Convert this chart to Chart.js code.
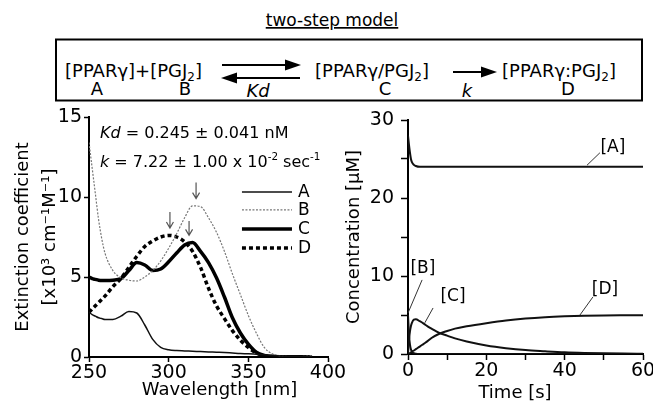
<!DOCTYPE html>
<html>
<head>
<meta charset="utf-8">
<script src="https://cdn.jsdelivr.net/npm/chart.js@4.4.1/dist/chart.umd.min.js"></script>
<style>
html, body { margin: 0; padding: 0; background: #fff; width: 653px; height: 405px; overflow: hidden; position: relative; }
#scheme { position: absolute; left: 0; top: 0; }
#spec { position: absolute; left: 0; top: 100px; }
#kin { position: absolute; left: 335px; top: 100px; }
</style>
</head>
<body>
<svg id="scheme" width="653" height="104" font-family="DejaVu Sans" font-size="18">
  <text x="332" y="26" text-anchor="middle" font-size="17" text-decoration="underline">two-step model</text>
  <rect x="56" y="39.5" width="586" height="61" fill="none" stroke="#000" stroke-width="2"/>
  <text x="65" y="77">[PPARγ]+[PGJ<tspan font-size="12" dy="4">2</tspan><tspan dy="-4">]</tspan></text>
  <text x="97" y="95" text-anchor="middle">A</text>
  <text x="185" y="95" text-anchor="middle">B</text>
  <line x1="222" y1="65" x2="288" y2="65" stroke="#000" stroke-width="2"/>
  <polygon points="285,59.5 301,65 285,70.5"/>
  <line x1="234" y1="78" x2="300" y2="78" stroke="#000" stroke-width="2"/>
  <polygon points="237,72.5 221,78 237,83.5"/>
  <text x="258" y="97" text-anchor="middle" font-style="italic">Kd</text>
  <text x="315" y="77">[PPARγ/PGJ<tspan font-size="12" dy="4">2</tspan><tspan dy="-4">]</tspan></text>
  <text x="385" y="95" text-anchor="middle">C</text>
  <line x1="453" y1="72" x2="484" y2="72" stroke="#000" stroke-width="2"/>
  <polygon points="481,66.5 497,72 481,77.5"/>
  <text x="467" y="97" text-anchor="middle" font-style="italic">k</text>
  <text x="502" y="77">[PPARγ:PGJ<tspan font-size="12" dy="4">2</tspan><tspan dy="-4">]</tspan></text>
  <text x="568" y="95" text-anchor="middle">D</text>
</svg>
<canvas id="spec" width="350" height="305"></canvas>
<canvas id="kin" width="330" height="305"></canvas>
<script>
// spectra (x10^3 cm-1 M-1)
const wavelength = [250,252,254,256,258,260,265,270,275,280,285,290,295,300,305,310,315,320,325,330,335,340,345,350,355,360,365,370,375,380,385,390];
const specA = [2.8,2.65,2.55,2.45,2.4,2.35,2.35,2.55,2.85,2.75,2.0,1.1,0.6,0.45,0.4,0.38,0.36,0.34,0.32,0.3,0.28,0.25,0.22,0.2,0.17,0.14,0.1,0.07,0.05,0.04,0.03,0.02];
const specB = [13.4,11.8,10.2,8.6,7.4,6.5,5.4,4.95,4.8,4.75,5.0,5.4,6.0,6.8,7.7,8.7,9.45,9.4,8.7,7.8,6.6,5.2,3.9,2.6,1.5,0.6,0.2,0.06,0.03,0.02,0.04,0.08];
const specC = [5.0,4.9,4.85,4.8,4.78,4.78,4.8,4.9,5.4,5.9,5.75,5.4,5.5,5.95,6.5,7.0,7.15,6.6,5.9,4.95,3.75,2.45,1.5,0.8,0.3,0.1,0.03,0.02,0.02,0.01,0.01,0];
const specD = [2.8,3.0,3.2,3.4,3.6,3.8,4.4,4.9,5.6,6.3,6.9,7.25,7.5,7.6,7.5,7.2,6.6,5.6,4.3,3.2,2.4,1.65,1.05,0.6,0.25,0.08,0.03,0.02,0.01,0.01,0,0];
const specNames = ['A','B','C','D'];
const specTicksX = [250,300,350,400];
const specTicksY = [0,5,10,15];

// simulated concentrations (uM)
const time = [0,0.25,0.5,0.75,1,1.5,2,3,4,5,6,8,10,12,15,20,25,30,35,40,45,50,55,60];
const concA = [28,26.8,25.8,25.0,24.6,24.25,24.1,24,24,24,24,24,24,24,24,24,24,24,24,24,24,24,24,24];
const concB = [5,2.5,1.2,0.6,0.3,0.1,0.03,0,0,0,0,0,0,0,0,0,0,0,0,0,0,0,0,0];
const concC = [0,1.8,2.9,3.6,4.0,4.4,4.45,4.2,3.9,3.55,3.25,2.7,2.35,2.0,1.6,1.1,0.75,0.5,0.35,0.22,0.14,0.09,0.06,0.04];
const concD = [0,0.05,0.12,0.2,0.3,0.45,0.62,0.95,1.3,1.65,2.05,2.6,2.95,3.25,3.55,3.95,4.3,4.55,4.72,4.83,4.9,4.95,4.97,4.98];
const concNames = ['[A]','[B]','[C]','[D]'];

// annotation anchors in data units
const peakArrows = [[317.2, 10.9, 9.9], [300.8, 9.06, 8.06], [312.8, 8.5, 7.6]];
const legendY = [10.31, 9.19, 8.0, 6.81];
const concLabels = [
  {t: 52.3, v: 26.5, from: [45.7, 24.2], to: [49.0, 25.8]},
  {t: 3.8, v: 11.0, from: [0, 5.26], to: [3.6, 9.5]},
  {t: 11.5, v: 7.3, from: [4.3, 4.0], to: [6.4, 5.9]},
  {t: 50.3, v: 8.2, from: [43.9, 5.0], to: [47.2, 7.3]}
];

const FONT = 'DejaVu Sans';
Chart.defaults.font.family = FONT;
Chart.defaults.color = '#000';

function xy(xs, ys) { return xs.map((x, i) => ({x: x, y: ys[i]})); }

function drawRich(ctx, parts, x, y, size) {
  parts.forEach(p => {
    const s = p.sup ? size * 0.65 : size;
    ctx.font = (p.it ? 'italic ' : '') + s + 'px "' + FONT + '"';
    ctx.fillText(p.t, x, p.sup ? y - size * 0.42 : y);
    x += ctx.measureText(p.t).width;
  });
}

function axisStyle(len) {
  return {
    grid: {display: true, drawOnChartArea: false, drawTicks: true, tickLength: len, color: '#000', tickWidth: 1.5},
    border: {display: true, color: '#000', width: 2}
  };
}

const specStyles = [
  {borderColor: '#111', borderWidth: 1.5},
  {borderColor: '#777', borderWidth: 1.2, borderDash: [2, 1.5]},
  {borderColor: '#000', borderWidth: 3.5},
  {borderColor: '#000', borderWidth: 3.5, borderDash: [4, 3]}
];
const specSeries = [specA, specB, specC, specD];

const specNotes = {
  id: 'specNotes',
  afterDatasetsDraw(chart) {
    const {ctx, scales: {x, y}} = chart;
    ctx.save();
    ctx.fillStyle = '#000';
    ctx.textBaseline = 'alphabetic';
    ctx.textAlign = 'left';
    drawRich(ctx, [{t: 'Kd', it: true}, {t: ' = 0.245 ± 0.041 nM'}], x.getPixelForValue(256.9), y.getPixelForValue(13.69), 16);
    drawRich(ctx, [{t: 'k', it: true}, {t: ' = 7.22 ± 1.00 x 10'}, {t: '-2', sup: true}, {t: ' sec'}, {t: '-1', sup: true}], x.getPixelForValue(256.9), y.getPixelForValue(11.875), 16);
    // legend
    specNames.forEach((n, i) => {
      const yy = y.getPixelForValue(legendY[i]);
      ctx.beginPath();
      ctx.strokeStyle = specStyles[i].borderColor;
      ctx.lineWidth = specStyles[i].borderWidth;
      ctx.setLineDash(specStyles[i].borderDash || []);
      ctx.moveTo(x.getPixelForValue(346), yy);
      ctx.lineTo(x.getPixelForValue(377.4), yy);
      ctx.stroke();
      ctx.setLineDash([]);
      ctx.font = '17px "' + FONT + '"';
      ctx.textBaseline = 'middle';
      ctx.fillText(n, x.getPixelForValue(381.2), yy + 1);
    });
    // peak arrows
    ctx.strokeStyle = '#555';
    ctx.lineWidth = 1.2;
    peakArrows.forEach(a => {
      const px = x.getPixelForValue(a[0]);
      const y1 = y.getPixelForValue(a[1]);
      const y2 = y.getPixelForValue(a[2]);
      ctx.beginPath();
      ctx.moveTo(px, y1);
      ctx.lineTo(px, y2);
      ctx.moveTo(px - 3.5, y2 - 6);
      ctx.lineTo(px, y2);
      ctx.lineTo(px + 3.5, y2 - 6);
      ctx.stroke();
    });
    // x title
    ctx.font = '18px "' + FONT + '"';
    ctx.textAlign = 'center';
    ctx.textBaseline = 'middle';
    ctx.fillStyle = '#000';
    ctx.fillText('Wavelength [nm]', 219.5, 290);
    ctx.restore();
  }
};

new Chart(document.getElementById('spec'), {
  type: 'line',
  plugins: [specNotes],
  data: {
    datasets: specSeries.map((s, i) => Object.assign({
      label: specNames[i],
      data: xy(wavelength, s),
      pointRadius: 0,
      fill: false,
      cubicInterpolationMode: 'monotone'
    }, specStyles[i]))
  },
  options: {
    responsive: false,
    animation: false,
    layout: {padding: {top: 17, right: 22, left: 0, bottom: 0}},
    plugins: {legend: {display: false}, tooltip: {enabled: false}},
    scales: {
      x: Object.assign({
        type: 'linear', min: 250, max: 400,
        afterBuildTicks: s => { s.ticks = specTicksX.map(v => ({value: v})); },
        afterFit: s => { s.height = 48; },
        ticks: {padding: 0, maxRotation: 0, autoSkip: false, font: {size: 19}}
      }, axisStyle(5)),
      y: Object.assign({
        type: 'linear', min: 0, max: 15,
        afterBuildTicks: s => { s.ticks = specTicksY.map(v => ({value: v})); },
        afterFit: s => { s.width = 89; },
        ticks: {padding: 2, font: {size: 19}},
        title: {display: true, text: ['Extinction coefficient', '[x10³ cm⁻¹M⁻¹]'], font: {size: 18, lineHeight: '27px'}, padding: {top: 9.5, bottom: 0}}
      }, axisStyle(5))
    }
  }
});

const concSeries = [concA, concB, concC, concD];

const kinNotes = {
  id: 'kinNotes',
  afterDatasetsDraw(chart) {
    const {ctx, scales: {x, y}} = chart;
    ctx.save();
    ctx.strokeStyle = '#333';
    ctx.lineWidth = 1;
    ctx.fillStyle = '#000';
    ctx.font = '17px "' + FONT + '"';
    ctx.textAlign = 'center';
    ctx.textBaseline = 'middle';
    concLabels.forEach((l, i) => {
      ctx.beginPath();
      ctx.moveTo(x.getPixelForValue(l.from[0]), y.getPixelForValue(l.from[1]));
      ctx.lineTo(x.getPixelForValue(l.to[0]), y.getPixelForValue(l.to[1]));
      ctx.stroke();
      ctx.fillText(concNames[i], x.getPixelForValue(l.t), y.getPixelForValue(l.v));
    });
    ctx.font = '18px "' + FONT + '"';
    ctx.fillText('Time [s]', 180, 293);
    ctx.restore();
  }
};

new Chart(document.getElementById('kin'), {
  type: 'line',
  plugins: [kinNotes],
  data: {
    datasets: concSeries.map((s, i) => ({
      label: concNames[i],
      data: xy(time, s),
      borderColor: '#111',
      borderWidth: 2,
      pointRadius: 0,
      fill: false,
      cubicInterpolationMode: 'monotone'
    }))
  },
  options: {
    responsive: false,
    animation: false,
    layout: {padding: {top: 20, right: 22, left: 0, bottom: 0}},
    plugins: {legend: {display: false}, tooltip: {enabled: false}},
    scales: {
      x: Object.assign({
        type: 'linear', min: 0, max: 60,
        afterFit: s => { s.height = 51; },
        ticks: {stepSize: 10, padding: 0, maxRotation: 0, autoSkip: false, font: {size: 19},
          callback: v => (v % 20 === 0 ? v : '')}
      }, axisStyle(6)),
      y: Object.assign({
        type: 'linear', min: 0, max: 30,
        afterFit: s => { s.width = 73; },
        ticks: {stepSize: 5, padding: 7, autoSkip: false, font: {size: 19},
          callback: v => (v % 10 === 0 ? v : '')},
        title: {display: true, text: 'Concentration [μM]', font: {size: 18}, padding: {top: 9, bottom: 0}}
      }, axisStyle(7))
    }
  }
});
</script>
</body>
</html>
